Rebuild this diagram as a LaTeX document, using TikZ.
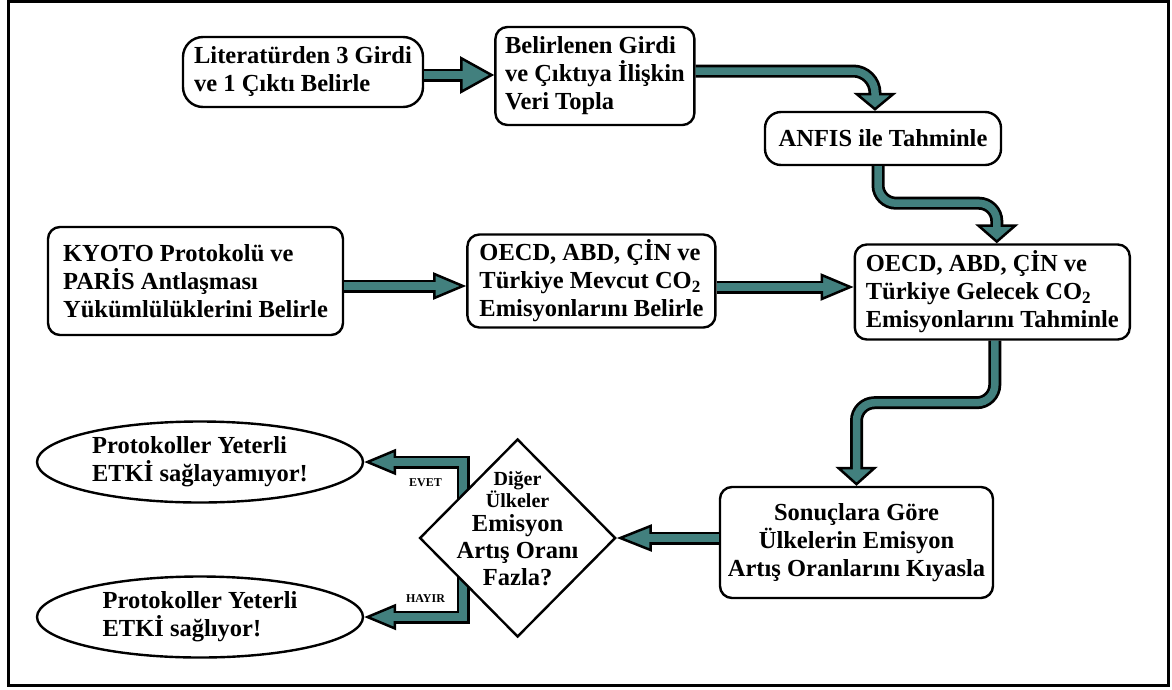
\documentclass[tikz,border=0pt]{standalone}
\usepackage{fontspec}
\setmainfont{Liberation Serif}
\usetikzlibrary{arrows.meta,positioning,shapes.geometric}
\definecolor{flowteal}{RGB}{66,128,126}
\tikzset{
    box/.style =    {rectangle,
                    rounded corners=12pt,
                    fill=white,
                    draw=black,
                    text=black,
                    line width=2.4pt,
                    align=left,
                    inner sep=0pt,
                    font=\bfseries\fontsize{24.5}{28}\selectfont},
    result/.style = {ellipse,
                    fill=white,
                    draw=black,
                    text=black,
                    line width=2.4pt,
                    align=left,
                    inner sep=0pt,
                    minimum width=326pt,
                    minimum height=81pt,
                    font=\bfseries\fontsize{24.5}{28}\selectfont},
    question/.style = {diamond,
                    fill=white,
                    draw=black,
                    line width=2.4pt,
                    inner sep=0pt,
                    minimum width=196pt,
                    minimum height=198pt},
    answer/.style = {inner sep=0pt,
                    text=black,
                    font=\bfseries\fontsize{12}{12}\selectfont},
    flow/.style n args = {3}{draw=flowteal,
                    line width=7.5pt,
                    shorten >=#3,
                    preaction={draw=black, line width=13pt, shorten >=0pt,
                        -{Triangle[length=#1,width=#2,fill=flowteal,line width=2.5pt]}}},
}

\begin{document}
\begin{tikzpicture}[x=1pt,y=-1pt]
    \useasboundingbox (0,0) rectangle (1172,689);
    \draw[line width=3pt] (8,1.5) rectangle (1168,685);

    \node[box, rounded corners=20pt, minimum width=240pt, minimum height=70pt] (lit) at (303,72) {Literatürden 3 Girdi\\ve 1 Çıktı Belirle};
    \node[box, minimum width=199pt, minimum height=98pt] (veri) [right=70pt of lit, yshift=-4pt] {Belirlenen Girdi\\ve Çıktıya İlişkin\\Veri Topla};
    \node[box, rounded corners=16pt, minimum width=236pt, minimum height=53pt] (anfis) at (883,138.5) {ANFIS ile Tahminle};
    \node[box, minimum width=295pt, minimum height=108pt] (kyoto) at (195.5,281) {KYOTO Protokolü ve\\PARİS Antlaşması\\Yükümlülüklerini Belirle};
    \node[box, minimum width=248pt, minimum height=93pt] (mevcut) [right=122pt of kyoto] {OECD, ABD, ÇİN ve\\Türkiye Mevcut CO\textsubscript{2}\\Emisyonlarını Belirle};
    \node[box, minimum width=275pt, minimum height=95pt] (gelecek) [right=137pt of mevcut, yshift=-11pt] {OECD, ABD, ÇİN ve\\Türkiye Gelecek CO\textsubscript{2}\\Emisyonlarını Tahminle};
    \node[box, align=center, minimum width=273pt, minimum height=111pt] (kiyas) at (856.5,542.5) {Sonuçlara Göre\\Ülkelerin Emisyon\\Artış Oranlarını Kıyasla};
    \node[result] (evet) at (200,462) {Protokoller Yeterli\\ETKİ sağlayamıyor!};
    \node[result] (hayir) at (200,617) {Protokoller Yeterli\\ETKİ sağlıyor!};
    \coordinate (fork) at (463,538);

    \draw[flow={32pt}{26pt}{26pt}] (fork) |- node[answer, pos=0.69, below=13pt] {EVET} (evet.east);
    \draw[flow={32pt}{26pt}{26pt}] (fork) |- node[answer, pos=0.69, above=11pt] {HAYIR} (hayir.east);

    \node[question] (soru) [left=102pt of kiyas, yshift=4.5pt] {};
    \node[align=center, inner sep=0pt, font=\bfseries\fontsize{24.5}{27}\selectfont] (sorumetin) at ([yshift=9pt]soru.center)
        {{\fontsize{20}{20}\selectfont Diğer}\\[-5pt]{\fontsize{20}{20}\selectfont Ülkeler}\\[-3pt]Emisyon\\Artış Oranı\\Fazla?};

    \draw[flow={34pt}{37pt}{27pt}] ([yshift=-3pt]lit.east) -- ([yshift=-3pt]lit.east -| veri.west);
    \draw[flow={18pt}{43pt}{11pt}, rounded corners=22pt] ([yshift=5pt]veri.east) -| ([xshift=-8pt]anfis.north);
    \draw[flow={19pt}{43pt}{12pt}, rounded corners=18pt] ([xshift=-5pt]anfis.south) -- ++(0,37) -| ([xshift=4.5pt]gelecek.north);
    \draw[flow={33pt}{27pt}{27pt}] ([yshift=-5pt]kyoto.east) -- ([yshift=-5pt]kyoto.east -| mevcut.west);
    \draw[flow={33pt}{27pt}{27pt}] ([yshift=-6pt]mevcut.east) -- ([yshift=-6pt]mevcut.east -| gelecek.west);
    \draw[flow={19pt}{42pt}{12pt}, rounded corners=18pt] ([xshift=2.5pt]gelecek.south) -- ++(0,62) -| (kiyas.north);
    \draw[flow={35pt}{27pt}{28pt}] (kiyas.west |- soru.east) -- (soru.east);
\end{tikzpicture}
\end{document}
